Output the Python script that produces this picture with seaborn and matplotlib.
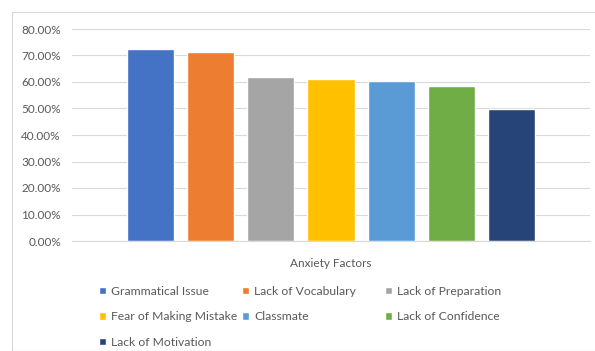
import matplotlib
matplotlib.use("Agg")
import matplotlib.pyplot as plt
from matplotlib.patches import Rectangle
from matplotlib.ticker import PercentFormatter, MultipleLocator
import pandas as pd
import seaborn as sns

# datos
factors = ["Grammatical Issue", "Lack of Vocabulary", "Lack of Preparation",
           "Fear of Making Mistake", "Classmate", "Lack of Confidence",
           "Lack of Motivation"]
values = [0.724, 0.714, 0.619, 0.612, 0.605, 0.586, 0.498]
category = "Anxiety Factors"
colors = ["#4472C4", "#ED7D31", "#A5A5A5", "#FFC000", "#5B9BD5", "#70AD47", "#264478"]

df = pd.DataFrame({"cat": [category] * len(factors), "factor": factors, "value": values})

sns.set_style("white")
plt.rcParams["font.family"] = ["Lato", "DejaVu Sans"]
txt = "#595959"
grid = "#D9D9D9"

fig = plt.figure(figsize=(5.95, 3.51), dpi=100)
ax = fig.add_axes([72 / 595, 1 - 241 / 351, 518 / 595, 212 / 351])

sns.barplot(data=df, x="cat", y="value", hue="factor", hue_order=factors,
            palette=colors, width=0.815, gap=0.22, ax=ax, legend=True,
            saturation=1)

ax.set_ylim(0, 0.8)
ax.set_xlim(-0.5, 0.5)
ax.yaxis.set_major_locator(MultipleLocator(0.1))
ax.yaxis.set_major_formatter(PercentFormatter(1.0, decimals=2))
ax.grid(axis="y", color=grid, linewidth=0.8)
ax.set_axisbelow(True)
for s in ["top", "right", "left"]:
    ax.spines[s].set_visible(False)
ax.spines["bottom"].set_color(grid)
ax.tick_params(axis="y", length=0, pad=8, labelsize=8.5, labelcolor=txt)
ax.tick_params(axis="x", length=0, pad=12, labelsize=8.5, labelcolor=txt)
ax.set_xlabel("")
ax.set_ylabel("")

# leyenda: tres columnas colocadas como en Excel (filas de 3)
handles, labels = ax.get_legend_handles_labels()
ax.get_legend().remove()
columns = [[0, 3, 6], [1, 4], [2, 5]]
col_x = [94, 237, 380]
for idx, x in zip(columns, col_x):
    leg = fig.legend([handles[i] for i in idx], [labels[i] for i in idx],
                     loc="upper left", bbox_to_anchor=(x / 595, 1 - 281 / 351),
                     ncol=1, frameon=False, fontsize=8.7, labelcolor=txt,
                     handlelength=0.6, handleheight=0.6, handletextpad=0.4,
                     labelspacing=1.2, borderaxespad=0)

# borde del gráfico
fig.patches.append(Rectangle((12 / 595, 0), 1, 1 - 12 / 351, transform=fig.transFigure,
                             fill=False, edgecolor=grid, linewidth=0.8))

fig.savefig("out.png", dpi=100)
